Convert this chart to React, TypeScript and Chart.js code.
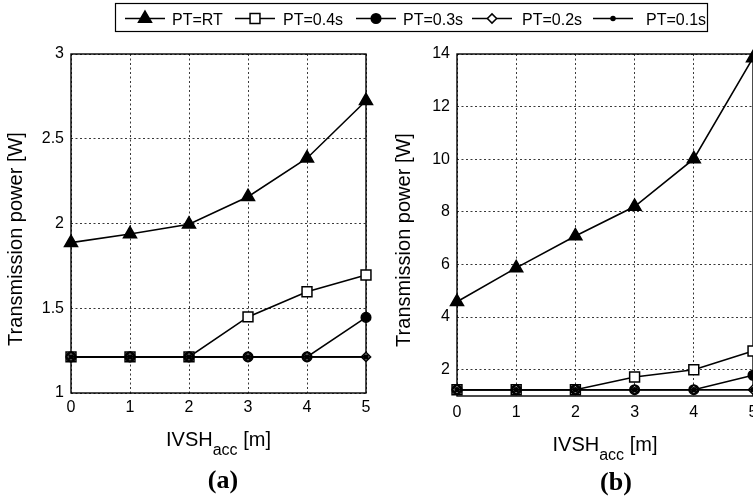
import React, { useEffect, useRef } from 'react';
import { Chart, registerables } from 'chart.js';

Chart.register(...registerables);

// ---------- data ----------
const xValues = [0, 1, 2, 3, 4, 5];
const seriesLabels = ['PT=RT', 'PT=0.4s', 'PT=0.3s', 'PT=0.2s', 'PT=0.1s'];

const aYTicks = [1, 1.5, 2, 2.5, 3];
const bYTicks = [2, 4, 6, 8, 10, 12, 14];

const aRT = [1.887, 1.938, 1.995, 2.158, 2.385, 2.724];
const a04 = [1.213, 1.213, 1.213, 1.449, 1.597, 1.696];
const a03 = [1.213, 1.213, 1.213, 1.213, 1.213, 1.446];
const a02 = [1.213, 1.213, 1.213, 1.213, 1.213, 1.213];
const a01 = [1.213, 1.213, 1.213, 1.213, 1.213, 1.213];

const bRT = [4.58, 5.87, 7.08, 8.2, 10.01, 13.85];
const b04 = [1.24, 1.24, 1.24, 1.72, 2.0, 2.71];
const b03 = [1.24, 1.24, 1.24, 1.24, 1.24, 1.79];
const b02 = [1.24, 1.24, 1.24, 1.24, 1.24, 1.24];
const b01 = [1.24, 1.24, 1.24, 1.24, 1.24, 1.24];

const xTitleMain = 'IVSH';
const xTitleSub = 'acc';
const xTitleTail = ' [m]';
const yTitle = 'Transmission power [W]';

// ---------- styles ----------
const FONT = '"Liberation Sans", Arial, Helvetica, sans-serif';
const SERIF = '"Liberation Serif", "Times New Roman", serif';

type MStyle = { pointStyle: string; radius: number; fill: string };
const markerStyles: MStyle[] = [
  { pointStyle: 'triangle', radius: 7.5, fill: '#000' },
  { pointStyle: 'rect', radius: 7, fill: '#fff' },
  { pointStyle: 'circle', radius: 4.8, fill: '#000' },
  { pointStyle: 'rectRot', radius: 4.6, fill: '#fff' },
  { pointStyle: 'circle', radius: 2, fill: '#000' },
];

function drawMarker(ctx: CanvasRenderingContext2D, m: MStyle, x: number, y: number) {
  const r = m.radius;
  ctx.beginPath();
  if (m.pointStyle === 'triangle') {
    const s = Math.sin((2 * Math.PI) / 3) * r;
    ctx.moveTo(x, y - r);
    ctx.lineTo(x + s, y + r / 2);
    ctx.lineTo(x - s, y + r / 2);
    ctx.closePath();
  } else if (m.pointStyle === 'rect') {
    const s = Math.SQRT1_2 * r;
    ctx.rect(x - s, y - s, 2 * s, 2 * s);
  } else if (m.pointStyle === 'rectRot') {
    ctx.moveTo(x - r, y);
    ctx.lineTo(x, y - r);
    ctx.lineTo(x + r, y);
    ctx.lineTo(x, y + r);
    ctx.closePath();
  } else {
    ctx.arc(x, y, r, 0, Math.PI * 2);
  }
  ctx.fillStyle = m.fill;
  ctx.fill();
  ctx.lineWidth = 1.5;
  ctx.strokeStyle = '#000';
  ctx.stroke();
}

type PanelOpts = {
  id: string;
  series: number[][];
  yTicks: number[];
  yMin: number;
  yMax: number;
  padding: { left: number; right: number; top: number; bottom: number };
  yWidth: number;
  xHeight: number;
  xTickPad: number;
  yTitleX: number;
  yTitleY: number;
  xTitleBaseline: number;
  label: string;
  labelX: number;
  labelBaseline: number;
  legend: boolean;
};

// legend entry positions (marker centre, text start)
const legendMarkerX = [145, 255, 376, 492, 613];
const legendTextX = [172, 283, 403, 522, 646];

function makePlugin(o: PanelOpts) {
  return {
    id: 'panel_' + o.id,
    beforeDatasetsDraw(chart: any) {
      const { ctx, chartArea: a } = chart;
      ctx.save();
      ctx.setLineDash([]);
      ctx.lineWidth = 1.4;
      ctx.strokeStyle = '#000';
      ctx.strokeRect(a.left, a.top, a.right - a.left, a.bottom - a.top);
      ctx.restore();
    },
    afterDraw(chart: any) {
      const { ctx, chartArea: a } = chart;
      ctx.save();
      ctx.fillStyle = '#000';
      // y title
      ctx.save();
      ctx.translate(o.yTitleX, o.yTitleY);
      ctx.rotate(-Math.PI / 2);
      ctx.font = '20px ' + FONT;
      ctx.textAlign = 'center';
      ctx.textBaseline = 'middle';
      ctx.fillText(yTitle, 0, 0);
      ctx.restore();
      // x title with subscript
      const mainFont = '20px ' + FONT;
      const subFont = '16px ' + FONT;
      ctx.font = mainFont;
      const w1 = ctx.measureText(xTitleMain).width;
      const w3 = ctx.measureText(xTitleTail).width;
      ctx.font = subFont;
      const w2 = ctx.measureText(xTitleSub).width;
      const cx = (a.left + a.right) / 2;
      let x = cx - (w1 + w2 + w3) / 2;
      ctx.textAlign = 'left';
      ctx.textBaseline = 'alphabetic';
      ctx.font = mainFont;
      ctx.fillText(xTitleMain, x, o.xTitleBaseline);
      x += w1;
      ctx.font = subFont;
      ctx.fillText(xTitleSub, x, o.xTitleBaseline + 9);
      x += w2;
      ctx.font = mainFont;
      ctx.fillText(xTitleTail, x, o.xTitleBaseline);
      // panel label
      ctx.font = 'bold 26px ' + SERIF;
      ctx.textAlign = 'center';
      ctx.fillText(o.label, o.labelX, o.labelBaseline);
      // legend
      if (o.legend) {
        ctx.lineWidth = 1.2;
        ctx.strokeStyle = '#000';
        ctx.strokeRect(115.5, 3.5, 592, 28);
        ctx.font = '16px ' + FONT;
        ctx.textBaseline = 'alphabetic';
        ctx.textAlign = 'left';
        const ly = 18.5;
        seriesLabels.forEach((lab, i) => {
          const mx = legendMarkerX[i];
          ctx.beginPath();
          ctx.lineWidth = 1.5;
          ctx.moveTo(mx - 20, ly);
          ctx.lineTo(mx + 20, ly);
          ctx.stroke();
          drawMarker(ctx, markerStyles[i], mx, ly);
          ctx.fillStyle = '#000';
          ctx.fillText(lab, legendTextX[i], 25);
        });
      }
      ctx.restore();
    },
  };
}

function makeConfig(o: PanelOpts): any {
  const datasets = o.series.map((arr, i) => ({
    label: seriesLabels[i],
    data: xValues.map((x, j) => ({ x, y: arr[j] })),
    borderColor: '#000',
    borderWidth: 1.6,
    backgroundColor: markerStyles[i].fill,
    pointStyle: markerStyles[i].pointStyle,
    pointRadius: markerStyles[i].radius,
    pointBorderWidth: 1.5,
    pointBorderColor: '#000',
    pointBackgroundColor: markerStyles[i].fill,
    tension: 0,
    clip: false,
    order: o.series.length - i,
  }));
  return {
    type: 'line',
    data: { datasets },
    plugins: [makePlugin(o)],
    options: {
      responsive: false,
      animation: false,
      events: [],
      layout: { padding: o.padding },
      plugins: { legend: { display: false }, tooltip: { enabled: false }, title: { display: false } },
      scales: {
        x: {
          type: 'linear',
          min: xValues[0],
          max: xValues[xValues.length - 1],
          afterBuildTicks: (axis: any) => {
            axis.ticks = xValues.map((v) => ({ value: v }));
          },
          afterFit: (axis: any) => {
            axis.height = o.xHeight;
          },
          ticks: {
            color: '#000',
            font: { size: 16, family: FONT },
            padding: o.xTickPad,
            maxRotation: 0,
            callback: (v: number) => String(v),
          },
          grid: { color: '#222', lineWidth: 0.9, drawTicks: false },
          border: { display: false, dash: [2, 2.5] },
        },
        y: {
          type: 'linear',
          min: o.yMin,
          max: o.yMax,
          afterBuildTicks: (axis: any) => {
            axis.ticks = o.yTicks.map((v) => ({ value: v }));
          },
          afterFit: (axis: any) => {
            axis.width = o.yWidth;
          },
          ticks: {
            color: '#000',
            font: { size: 16, family: FONT },
            padding: 7,
            callback: (v: number) => String(v),
          },
          grid: { color: '#222', lineWidth: 0.9, drawTicks: false },
          border: { display: false, dash: [2, 2.5] },
        },
      },
    },
  };
}

const panelA: PanelOpts = {
  id: 'a',
  series: [aRT, a04, a03, a02, a01],
  yTicks: aYTicks,
  yMin: 1,
  yMax: 3,
  padding: { left: 0, right: 387, top: 54, bottom: 0 },
  yWidth: 71,
  xHeight: 105,
  xTickPad: 5,
  yTitleX: 16.5,
  yTitleY: 239,
  xTitleBaseline: 446,
  label: '(a)',
  labelX: 223,
  labelBaseline: 488,
  legend: true,
};

const panelB: PanelOpts = {
  id: 'b',
  series: [bRT, b04, b03, b02, b01],
  yTicks: bYTicks,
  yMin: 1,
  yMax: 14,
  padding: { left: 0, right: 52, top: 54, bottom: 0 },
  yWidth: 72,
  xHeight: 102,
  xTickPad: 7,
  yTitleX: 19,
  yTitleY: 240,
  xTitleBaseline: 451,
  label: '(b)',
  labelX: 231,
  labelBaseline: 490,
  legend: false,
};

export default function App() {
  const refA = useRef<HTMLCanvasElement>(null);
  const refB = useRef<HTMLCanvasElement>(null);

  useEffect(() => {
    Chart.defaults.font.family = FONT;
    Chart.defaults.color = '#000';
    const ca = new Chart(refA.current as HTMLCanvasElement, makeConfig(panelA));
    const cb = new Chart(refB.current as HTMLCanvasElement, makeConfig(panelB));
    return () => {
      ca.destroy();
      cb.destroy();
    };
  }, []);

  return (
    <div
      style={{
        position: 'absolute',
        left: 0,
        top: 0,
        width: 753,
        height: 498,
        overflow: 'hidden',
        background: '#fff',
      }}
    >
      <canvas ref={refA} width={753} height={498} style={{ position: 'absolute', left: 0, top: 0 }} />
      <canvas ref={refB} width={420} height={498} style={{ position: 'absolute', left: 385, top: 0 }} />
    </div>
  );
}
